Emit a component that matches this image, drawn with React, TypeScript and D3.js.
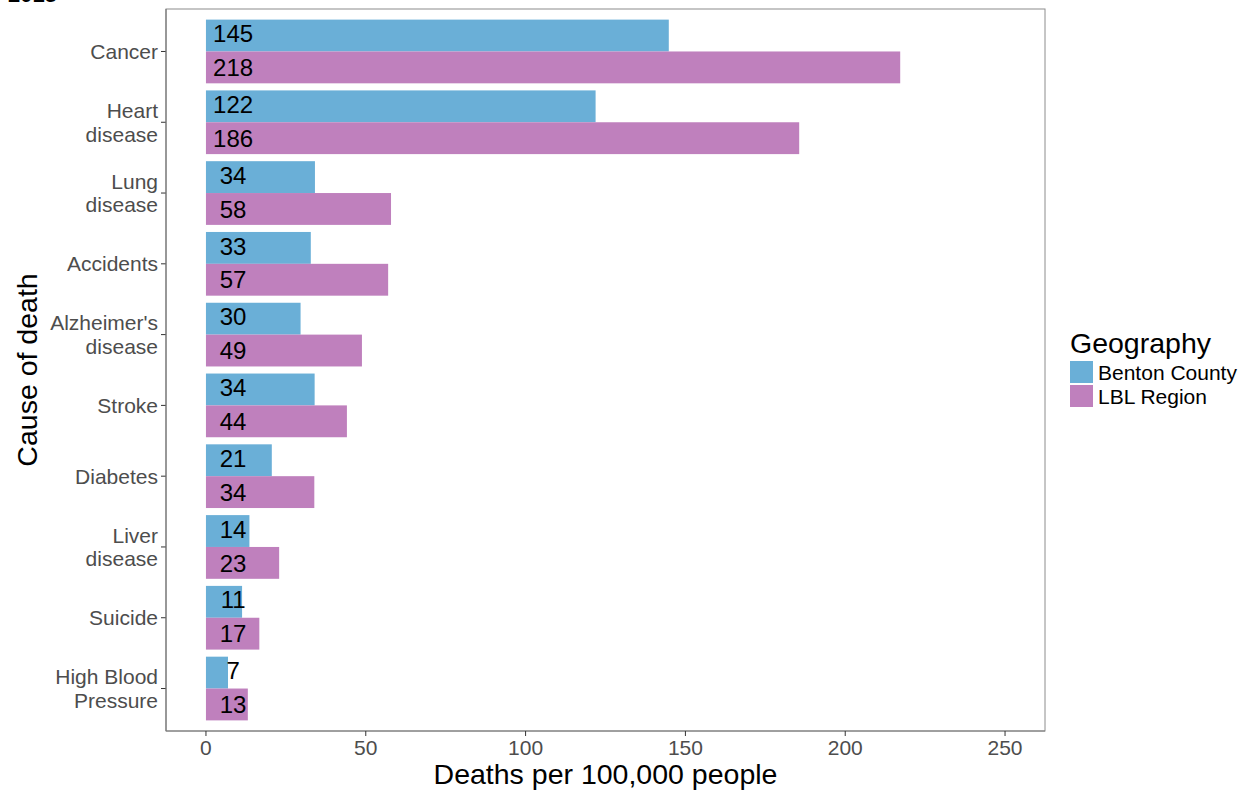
import React from "react";
import * as d3 from "d3";

const categories = ["Cancer", "Heart\ndisease", "Lung\ndisease", "Accidents", "Alzheimer's\ndisease", "Stroke", "Diabetes", "Liver\ndisease", "Suicide", "High Blood\nPressure"];
const bentonValues = [144.8, 121.9, 34.1, 32.8, 29.6, 34.0, 20.6, 13.6, 11.3, 6.9];
const lblValues = [217.2, 185.6, 57.9, 57.0, 48.8, 44.1, 33.9, 22.9, 16.7, 13.1];
const bentonLabels = ["145", "122", "34", "33", "30", "34", "21", "14", "11", "7"];
const lblLabels = ["218", "186", "58", "57", "49", "44", "34", "23", "17", "13"];
const series = ["Benton County", "LBL Region"];
const xTicks = [0, 50, 100, 150, 200, 250];
const colors = ["#6AAFD7", "#BF80BD"];

export default function App() {
  const W = 1247, H = 790;
  const left = 166, right = 1045, top = 9, bottom = 731;
  const x = d3.scaleLinear().domain([-12.5, 262.5]).range([left, right]);
  const y = d3.scaleLinear().domain([-0.6, categories.length - 1 + 0.6]).range([top, bottom]);
  const bw = y(0.45) - y(0);
  const font = "'Liberation Sans', Arial, sans-serif";
  const grey = "#4D4D4D";

  return (
    <svg width={W} height={H} style={{ position: "absolute", left: 0, top: 0, background: "#fff" }} fontFamily={font}>
      <text x={8} y={2} fontSize={22} fontWeight="bold" fill="#000">2015</text>
      <rect x={left} y={top} width={right - left} height={bottom - top} fill="#fff" stroke="#8c8c8c" strokeWidth={1} />
      {categories.map((c, i) => {
        const yc = y(i);
        return (
          <g key={c}>
            <rect x={x(0)} y={yc - bw} width={x(bentonValues[i]) - x(0)} height={bw} fill={colors[0]} />
            <rect x={x(0)} y={yc} width={x(lblValues[i]) - x(0)} height={bw} fill={colors[1]} />
            <text x={x(8.5)} y={yc - bw / 2 - 2} dy="0.36em" textAnchor="middle" fontSize={24} fill="#000">{bentonLabels[i]}</text>
            <text x={x(8.5)} y={yc + bw / 2} dy="0.36em" textAnchor="middle" fontSize={24} fill="#000">{lblLabels[i]}</text>
            <line x1={left - 5} x2={left} y1={yc} y2={yc} stroke="#333" strokeWidth={1} />
            {c.split("\n").map((ln, k, arr) => (
              <text key={k} x={158} y={yc + (k - (arr.length - 1) / 2) * 23.5} dy="0.36em" textAnchor="end" fontSize={21} fill={grey}>{ln}</text>
            ))}
          </g>
        );
      })}
      <line x1={left} x2={left} y1={top} y2={bottom} stroke="#7a7a7a" strokeWidth={1.2} />
      <line x1={left} x2={right} y1={bottom} y2={bottom} stroke="#7a7a7a" strokeWidth={1.2} />
      {xTicks.map((t) => (
        <g key={t}>
          <line x1={x(t)} x2={x(t)} y1={bottom} y2={bottom + 5} stroke="#333" strokeWidth={1} />
          <text x={x(t)} y={747} dy="0.36em" textAnchor="middle" fontSize={21} fill={grey}>{t}</text>
        </g>
      ))}
      <text x={(left + right) / 2} y={784} textAnchor="middle" fontSize={28.5} fill="#000">Deaths per 100,000 people</text>
      <text transform={`translate(37, ${(top + bottom) / 2}) rotate(-90)`} textAnchor="middle" fontSize={28.5} fill="#000">Cause of death</text>
      <text x={1070} y={353} fontSize={28.5} fill="#000">Geography</text>
      {series.map((s, i) => (
        <g key={s}>
          <rect x={1070} y={361 + i * 24} width={23} height={22} fill={colors[i]} />
          <text x={1098} y={372 + i * 24} dy="0.36em" fontSize={21} fill="#000">{s}</text>
        </g>
      ))}
    </svg>
  );
}
